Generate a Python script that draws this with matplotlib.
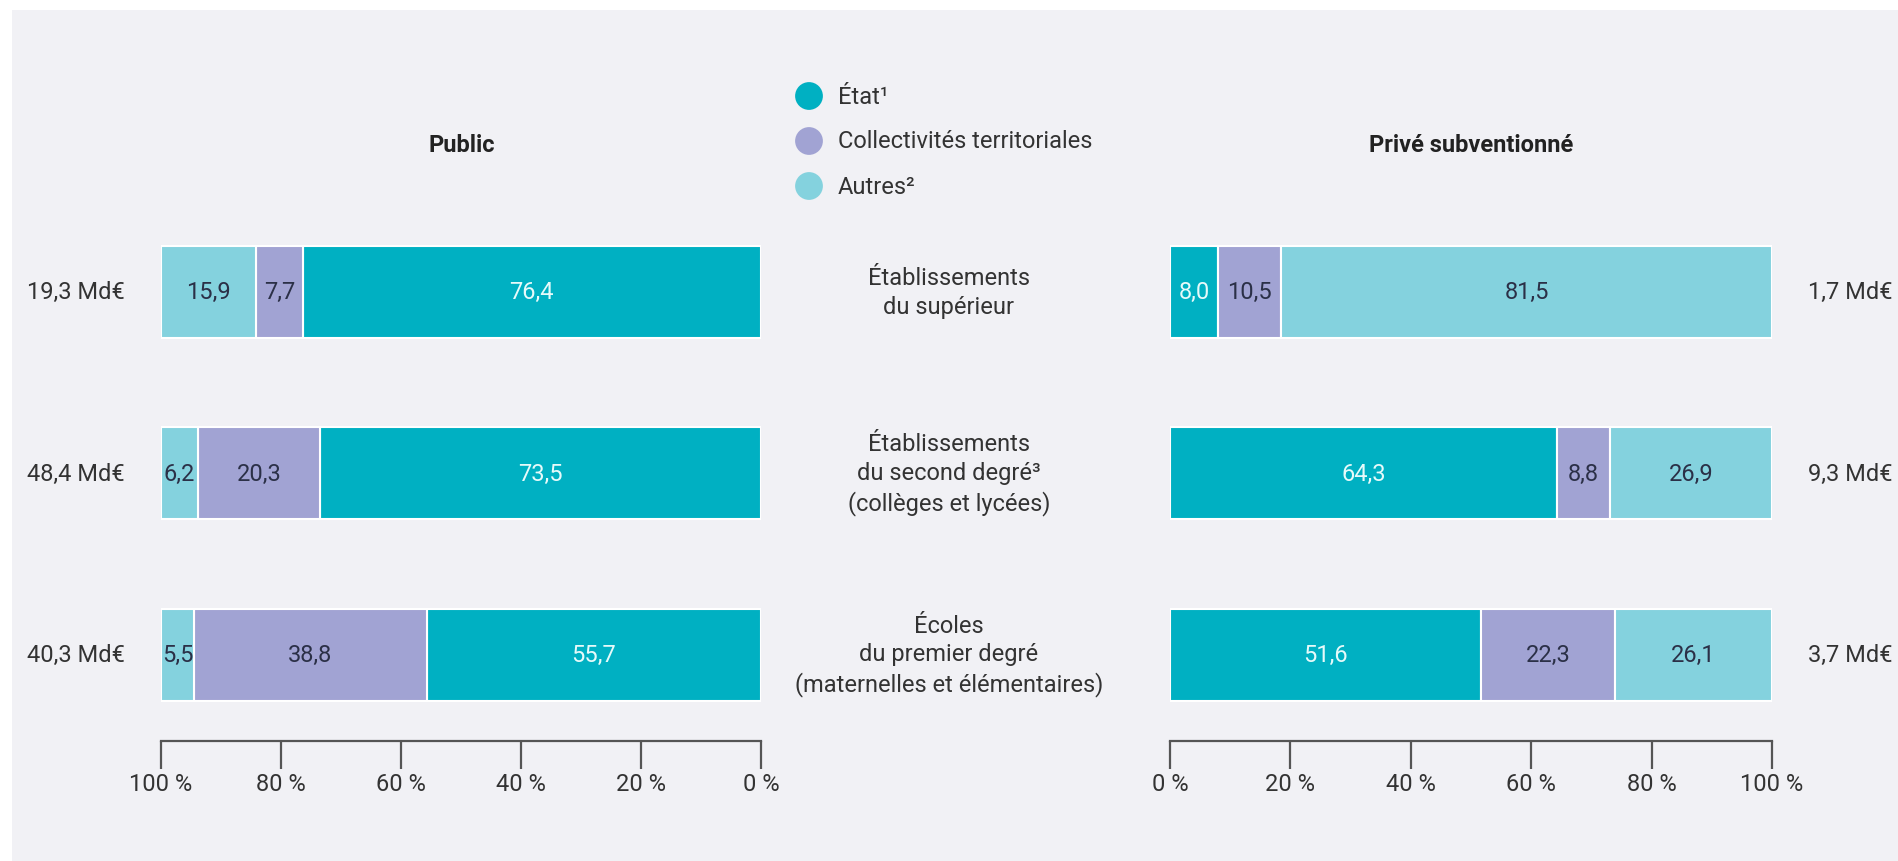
import numpy as np
import matplotlib
matplotlib.use("Agg")
import matplotlib.pyplot as plt
from matplotlib.patches import Rectangle
from matplotlib.transforms import blended_transform_factory

plt.rcParams['font.family'] = ['Roboto', 'DejaVu Sans']

# data
categories = ["Établissements\ndu supérieur",
              "Établissements\ndu second degré³\n(collèges et lycées)",
              "Écoles\ndu premier degré\n(maternelles et élémentaires)"]
series_names = ["État¹", "Collectivités territoriales", "Autres²"]

public_etat = [76.4, 73.5, 55.7]
public_coll = [7.7, 20.3, 38.8]
public_autres = [15.9, 6.2, 5.5]
public_totals = ["19,3 Md€", "48,4 Md€", "40,3 Md€"]

prive_etat = [8.0, 64.3, 51.6]
prive_coll = [10.5, 8.8, 22.3]
prive_autres = [81.5, 26.9, 26.1]
prive_totals = ["1,7 Md€", "9,3 Md€", "3,7 Md€"]

ticks = [0, 20, 40, 60, 80, 100]

colors = ["#00b0c2", "#a1a3d3", "#84d2de"]
text_colors = ["#e6fafa", "#2b3047", "#2b3047"]
bg_color = "#f1f1f5"
axis_color = "#555555"
fs = 17

W, H = 1899, 862
fig = plt.figure(figsize=(W / 100, H / 100), dpi=100)
fig.patch.set_facecolor("white")

# background panel + legend + titles drawn in pixel space
bg = fig.add_axes([0, 0, 1, 1], zorder=-1)
bg.set_xlim(0, W)
bg.set_ylim(H, 0)
bg.axis("off")
bg.add_patch(Rectangle((12, 11), W - 12, H - 11, facecolor=bg_color, edgecolor="none"))

leg_y = [97, 142, 187]
bg.scatter([809] * 3, leg_y, s=400, c=colors, edgecolors="none")
for yy, name in zip(leg_y, series_names):
    bg.text(838, yy, name, fontsize=fs, color="#333333", va="center", ha="left")

bg.text(462, 145, "Public", fontsize=fs, fontweight="bold", color="#222222", ha="center", va="center")
bg.text(1471, 145, "Privé subventionné", fontsize=fs, fontweight="bold", color="#222222", ha="center", va="center")

ys = np.array([2, 1, 0])
bar_h = 0.507
ax_bottom, ax_top = 742, 200


def fmt(v):
    return f"{v:.1f}".replace(".", ",")


def draw_panel(ax, parts, totals, invert):
    left = np.zeros(3)
    for vals, col, tcol in zip(parts, colors, text_colors):
        vals = np.array(vals)
        ax.barh(ys, vals, left=left, height=bar_h, color=col, edgecolor="white", linewidth=1.5)
        for y, l, v in zip(ys, left, vals):
            ax.text(l + v / 2, y, fmt(v), ha="center", va="center", fontsize=fs, color=tcol)
        left = left + vals
    ax.set_ylim(-0.474, 2.512)
    if invert:
        ax.set_xlim(100, 0)
        for y, t in zip(ys, totals):
            ax.text(106, y, t, ha="right", va="center", fontsize=fs, color="#333333")
    else:
        ax.set_xlim(0, 100)
        for y, t in zip(ys, totals):
            ax.text(106, y, t, ha="left", va="center", fontsize=fs, color="#333333")
    ax.set_facecolor("none")
    for s in ["top", "right", "left"]:
        ax.spines[s].set_visible(False)
    ax.spines["bottom"].set_color(axis_color)
    ax.spines["bottom"].set_linewidth(1.6)
    ax.set_yticks([])
    ax.set_xticks(ticks)
    ax.set_xticklabels([f"{t} %" for t in ticks])
    ax.tick_params(axis="x", length=20, width=1.6, color=axis_color, labelsize=fs,
                   labelcolor="#333333", pad=2)


ax_l = fig.add_axes([161 / W, 1 - ax_bottom / H, 600 / W, (ax_bottom - ax_top) / H])
draw_panel(ax_l, [public_etat, public_coll, public_autres], public_totals, invert=True)

ax_r = fig.add_axes([1170 / W, 1 - ax_bottom / H, 602 / W, (ax_bottom - ax_top) / H])
draw_panel(ax_r, [prive_etat, prive_coll, prive_autres], prive_totals, invert=False)

# category labels in the middle
tr = blended_transform_factory(fig.transFigure, ax_l.transData)
for y, cat in zip(ys, categories):
    ax_l.text(949 / W, y, cat, transform=tr, ha="center", va="center", fontsize=fs,
              color="#333333", linespacing=1.3)

fig.savefig("out.png", dpi=100, facecolor=fig.get_facecolor())
